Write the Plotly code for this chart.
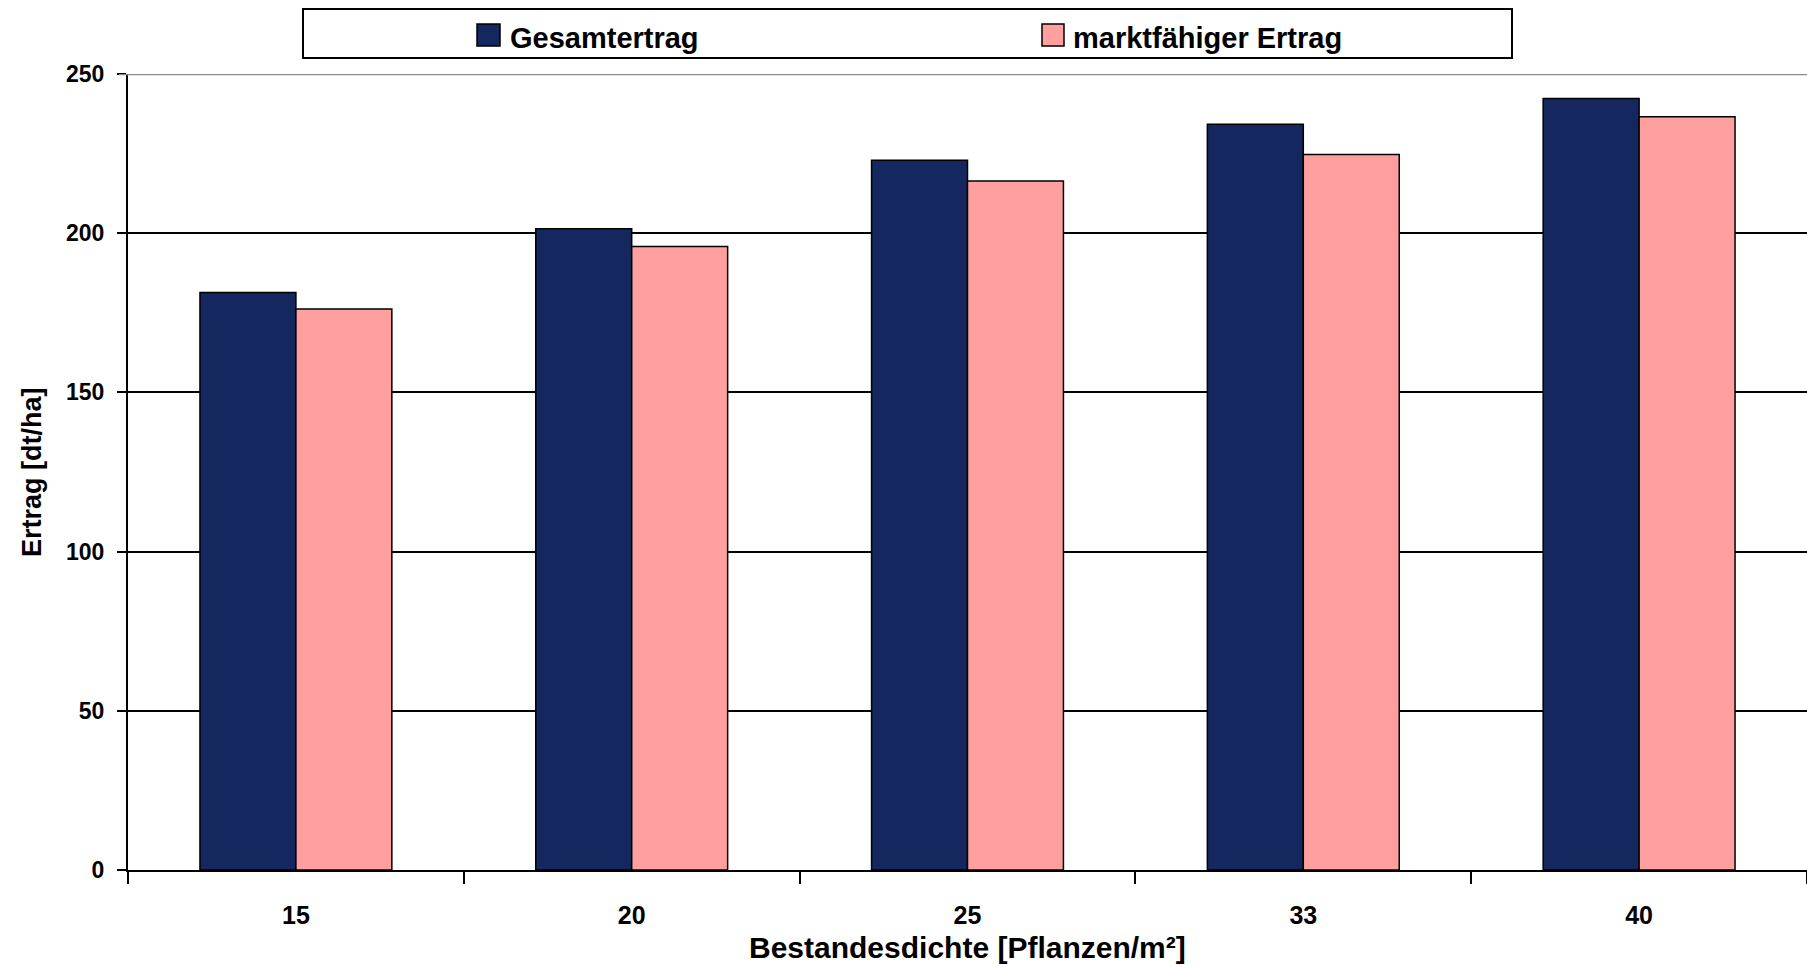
import plotly.graph_objects as go

# ---- data ----
categories = ["15", "20", "25", "33", "40"]
gesamtertrag = [181.4, 201.4, 222.9, 234.2, 242.3]
marktfaehiger_ertrag = [176.2, 195.8, 216.4, 224.7, 236.6]
series_names = ["Gesamtertrag", "marktfähiger Ertrag"]
y_tick_values = [0, 50, 100, 150, 200, 250]
x_title = "Bestandesdichte [Pflanzen/m²]"
y_title = "Ertrag [dt/ha]"

# ---- style ----
FONT = "Liberation Sans, Arial, sans-serif"
DARK = "#14275F"
PINK = "#FF9F9F"
W, H = 1807, 967
ML, MR, MT, MB = 128, 0, 74, 97
PW, PH = W - ML - MR, H - MT - MB


def px(x):
    return (x - ML) / PW


def py(y):
    return (H - MB - y) / PH


fig = go.Figure()
for name, vals, col in [(series_names[0], gesamtertrag, DARK),
                        (series_names[1], marktfaehiger_ertrag, PINK)]:
    fig.add_trace(go.Bar(
        x=categories, y=vals, name=name,
        marker=dict(color=col, line=dict(color="black", width=1.5)),
        showlegend=False, hoverinfo="x+y+name",
    ))

fig.update_layout(
    width=W, height=H,
    margin=dict(l=ML, r=MR, t=MT, b=MB, pad=0),
    paper_bgcolor="white", plot_bgcolor="white",
    barmode="group", bargap=0.4286, bargroupgap=0,
    font=dict(family=FONT, color="black", weight="bold"),
    xaxis=dict(
        type="category", range=[-0.5, len(categories) - 0.5],
        showline=True, linecolor="black", linewidth=2,
        ticks="outside", tickson="boundaries", ticklen=12, tickwidth=1.5,
        tickcolor="black", showgrid=False,
        tickfont=dict(family=FONT, size=25, color="black", weight="bold"),
        ticklabelstandoff=22,
    ),
    yaxis=dict(
        range=[0, 250], tickvals=y_tick_values,
        showgrid=True, gridcolor="black", gridwidth=1.5,
        showline=True, linecolor="black", linewidth=2, zeroline=False,
        ticks="outside", ticklen=9, tickwidth=1.5, tickcolor="black",
        tickfont=dict(family=FONT, size=23, color="black", weight="bold"),
        ticklabelstandoff=8,
    ),
)

shapes = [
    # gray top border line at 250
    dict(type="line", xref="paper", yref="y", x0=px(119), x1=1, y0=250, y1=250,
         line=dict(color="#8C8C8C", width=2.5)),
    # legend box
    dict(type="rect", xref="paper", yref="paper",
         x0=px(303), x1=px(1512), y0=py(58), y1=py(9),
         line=dict(color="black", width=2), fillcolor="white"),
    # legend swatches
    dict(type="rect", xref="paper", yref="paper",
         x0=px(477), x1=px(500), y0=py(46), y1=py(24),
         line=dict(color="black", width=1.5), fillcolor=DARK),
    dict(type="rect", xref="paper", yref="paper",
         x0=px(1042), x1=px(1064), y0=py(46), y1=py(24),
         line=dict(color="black", width=1.5), fillcolor=PINK),
]
fig.update_layout(shapes=shapes)

ann = [
    dict(text=series_names[0], x=px(508), y=py(38), xanchor="left", yanchor="middle",
         font=dict(family=FONT, size=29, color="black", weight="bold")),
    dict(text=series_names[1], x=px(1071), y=py(38), xanchor="left", yanchor="middle",
         font=dict(family=FONT, size=29, color="black", weight="bold")),
    dict(text=x_title, x=0.5, y=py(947), xanchor="center", yanchor="middle",
         font=dict(family=FONT, size=30, color="black", weight="bold")),
    dict(text=y_title, x=px(32), y=0.5, xanchor="center", yanchor="middle",
         textangle=-90,
         font=dict(family=FONT, size=27, color="black", weight="bold")),
]
for a in ann:
    a.update(xref="paper", yref="paper", showarrow=False)
fig.update_layout(annotations=ann)

fig.write_html("out.html", config={"displayModeBar": False},
               post_script="document.body.style.margin='0';document.body.style.overflow='hidden';")
